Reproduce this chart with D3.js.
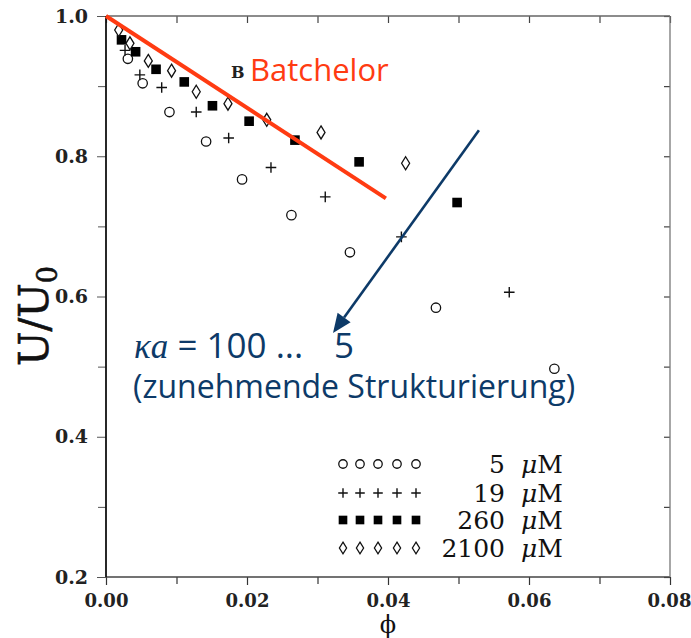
<!DOCTYPE html>
<html>
<head>
<meta charset="utf-8">
<script src="https://cdn.jsdelivr.net/npm/d3@7"></script>
<style>
  html, body { margin: 0; padding: 0; background: #fff; }
  svg { display: block; }
</style>
</head>
<body>
<script>
// ---- data ----
const phi5    = [0.0031, 0.0052, 0.0090, 0.0142, 0.0193, 0.0263, 0.0346, 0.0468, 0.0636];
const u5      = [0.939, 0.904, 0.863, 0.821, 0.767, 0.716, 0.663, 0.584, 0.497];
const phi19   = [0.0027, 0.0048, 0.0079, 0.0128, 0.0174, 0.0234, 0.0311, 0.0419, 0.0572];
const u19     = [0.951, 0.916, 0.898, 0.863, 0.826, 0.784, 0.742, 0.685, 0.606];
const phi260  = [0.0022, 0.0042, 0.0071, 0.0111, 0.0151, 0.0203, 0.0268, 0.0359, 0.0498];
const u260    = [0.966, 0.949, 0.924, 0.906, 0.872, 0.850, 0.823, 0.792, 0.734];
const phi2100 = [0.0018, 0.0034, 0.0060, 0.0093, 0.0128, 0.0173, 0.0228, 0.0305, 0.0425];
const u2100   = [0.980, 0.961, 0.936, 0.922, 0.892, 0.875, 0.852, 0.834, 0.790];

const batchelorPhi = [0.0, 0.0397];
const batchelorU   = [1.0, 0.740];

const arrowPhi = [0.0529, 0.0322];
const arrowU   = [0.837, 0.548];

const seriesNames  = ["5", "19", "260", "2100"];
const seriesShapes = ["circle", "plus", "square", "diamond"];
const xTicks = [0.00, 0.02, 0.04, 0.06, 0.08];
const yTicks = [0.2, 0.4, 0.6, 0.8, 1.0];
const xMinor = [0.01, 0.03, 0.05, 0.07];
const yMinor = [0.3, 0.5, 0.7, 0.9];

// ---- layout ----
const W = 691, H = 638;
const L = 106, R = 670, T = 16, B = 577;

const svg = d3.select("body").append("svg").attr("width", W).attr("height", H);
const x = d3.scaleLinear().domain([0, 0.08]).range([L, R]);
const y = d3.scaleLinear().domain([0.2, 1.0]).range([B, T]);

const serif = "'DejaVu Serif', serif";
const sans = "'Open Sans', 'Noto Sans', sans-serif";

function styleAxis(g, color, width, fs) {
  g.select(".domain").remove();
  g.selectAll(".tick line").attr("stroke", color).attr("stroke-width", width);
  g.selectAll(".tick text").attr("font-family", serif).attr("font-size", fs || 19)
    .attr("font-weight", "bold").attr("fill", "#222");
}

// bottom axis
const gx = svg.append("g").attr("transform", `translate(0,${B})`)
  .call(d3.axisBottom(x).tickValues(xTicks).tickSize(8).tickPadding(6).tickFormat(d3.format(".2f")));
styleAxis(gx, "#333", 1.2, 18);
gx.selectAll(".tick text").attr("dy", "0.9em");
gx.selectAll(".tick").filter(d => d === 0.08).select("text").attr("dx", "-1");
const gxm = svg.append("g").attr("transform", `translate(0,${B})`)
  .call(d3.axisBottom(x).tickValues(xMinor).tickSize(7).tickFormat(""));
styleAxis(gxm, "#333", 1.2);

// left axis
const gy = svg.append("g").attr("transform", `translate(${L},0)`)
  .call(d3.axisLeft(y).tickValues(yTicks).tickSize(9).tickPadding(9).tickFormat(d3.format(".1f")));
styleAxis(gy, "#555", 1);
const gym = svg.append("g").attr("transform", `translate(${L},0)`)
  .call(d3.axisLeft(y).tickValues(yMinor).tickSize(8).tickFormat(""));
styleAxis(gym, "#555", 1);

// top axis (inward ticks)
const gt = svg.append("g").attr("transform", `translate(0,${T})`)
  .call(d3.axisTop(x).tickValues(xTicks.concat(xMinor)).tickSize(-7).tickFormat(""));
styleAxis(gt, "#444", 1.2);
// right axis (inward ticks)
const gr = svg.append("g").attr("transform", `translate(${R},0)`)
  .call(d3.axisRight(y).tickValues(yTicks.concat(yMinor)).tickSize(-6).tickFormat(""));
styleAxis(gr, "#444", 1.2);

// frame
svg.append("line").attr("x1", L).attr("x2", R).attr("y1", T).attr("y2", T).attr("stroke", "#666").attr("stroke-width", 1.3);
svg.append("line").attr("x1", L).attr("x2", R).attr("y1", B).attr("y2", B).attr("stroke", "#444").attr("stroke-width", 1.5);
svg.append("line").attr("x1", L).attr("x2", L).attr("y1", T).attr("y2", B).attr("stroke", "#111").attr("stroke-width", 1.8);
svg.append("line").attr("x1", R).attr("x2", R).attr("y1", T).attr("y2", B).attr("stroke", "#777").attr("stroke-width", 1.3);

// axis titles
svg.append("text").attr("transform", `translate(48,316) rotate(-90)`)
  .attr("text-anchor", "middle").attr("font-family", serif).attr("font-size", 41).attr("fill", "#111")
  .attr("stroke", "#111").attr("stroke-width", 0.6)
  .html("U/U<tspan font-size='27' dy='9'>0</tspan>");
svg.append("text").attr("x", x(0.04)).attr("y", 633).attr("text-anchor", "middle")
  .attr("font-family", serif).attr("font-size", 24).attr("fill", "#111").text("ϕ");

// ---- markers ----
function drawMarker(g, shape, cx, cy, s) {
  if (shape === "circle") {
    g.append("circle").attr("cx", cx).attr("cy", cy).attr("r", 4.7 * s)
      .attr("fill", "#fff").attr("stroke", "#111").attr("stroke-width", 1.3);
  } else if (shape === "plus") {
    const h = 5.3 * s;
    g.append("path").attr("d", `M${cx - h},${cy}H${cx + h}M${cx},${cy - h}V${cy + h}`)
      .attr("stroke", "#111").attr("stroke-width", 1.4).attr("fill", "none");
  } else if (shape === "square") {
    const h = 4.8 * s;
    g.append("rect").attr("x", cx - h).attr("y", cy - h).attr("width", 2 * h).attr("height", 2 * h)
      .attr("fill", "#000");
  } else {
    const w = 4.0 * s, h = 6.5 * s;
    g.append("path").attr("d", `M${cx},${cy - h}L${cx + w},${cy}L${cx},${cy + h}L${cx - w},${cy}Z`)
      .attr("fill", "#fff").attr("stroke", "#111").attr("stroke-width", 1.3);
  }
}

const allPhi = [phi5, phi19, phi260, phi2100];
const allU = [u5, u19, u260, u2100];
const gPts = svg.append("g");
allPhi.forEach((ph, i) => {
  ph.forEach((p, j) => drawMarker(gPts, seriesShapes[i], x(p), y(allU[i][j]), 1));
});

// Batchelor line
const line = d3.line().x(d => x(d[0])).y(d => y(d[1]));
svg.append("path").attr("d", line(d3.zip(batchelorPhi, batchelorU)))
  .attr("stroke", "#ff3b12").attr("stroke-width", 4).attr("fill", "none");
svg.append("text").attr("x", 231).attr("y", 78).attr("font-family", serif).attr("font-size", 16)
  .attr("font-weight", "bold").attr("fill", "#222").text("B");
svg.append("text").attr("x", 250).attr("y", 81).attr("font-family", sans).attr("font-size", 31)
  .attr("fill", "#ff3b12").text("Batchelor");

// arrow
const blue = "#0d3a68";
const ax1 = x(arrowPhi[0]), ay1 = y(arrowU[0]), ax2 = x(arrowPhi[1]), ay2 = y(arrowU[1]);
const ang = Math.atan2(ay2 - ay1, ax2 - ax1);
const hl = 19, hw = 8;
const bx = ax2 - hl * Math.cos(ang), by = ay2 - hl * Math.sin(ang);
svg.append("line").attr("x1", ax1).attr("y1", ay1).attr("x2", bx).attr("y2", by)
  .attr("stroke", blue).attr("stroke-width", 2.6);
svg.append("path").attr("d",
  `M${ax2},${ay2}L${bx + hw * Math.sin(ang)},${by - hw * Math.cos(ang)}L${bx - hw * Math.sin(ang)},${by + hw * Math.cos(ang)}Z`)
  .attr("fill", blue);

// annotation text
const t1 = svg.append("text").attr("x", 134).attr("y", 358).attr("font-family", sans)
  .attr("font-size", 35).attr("fill", blue);
t1.append("tspan").attr("font-family", "'Liberation Serif', serif").attr("font-style", "italic").text("κa");
t1.append("tspan").text(" = 100 ...");
t1.append("tspan").attr("x", 334).text("5");
svg.append("text").attr("x", 133).attr("y", 398).attr("font-family", sans)
  .attr("font-size", 32).attr("fill", blue).text("(zunehmende Strukturierung)");

// legend
const legRows = [464, 493, 520, 548];
const legXs = [343, 360, 378, 397, 416];
seriesNames.forEach((name, i) => {
  legXs.forEach(lx => drawMarker(svg, seriesShapes[i], lx, legRows[i], 0.9));
  svg.append("text").attr("x", 505).attr("y", legRows[i] + 9).attr("text-anchor", "end")
    .attr("font-family", serif).attr("font-size", 25).attr("fill", "#111").text(name);
  const tt = svg.append("text").attr("x", 521).attr("y", legRows[i] + 9)
    .attr("font-family", serif).attr("font-size", 25).attr("fill", "#111");
  tt.append("tspan").attr("font-style", "italic").text("μ");
  tt.append("tspan").text("M");
});
</script>
</body>
</html>
